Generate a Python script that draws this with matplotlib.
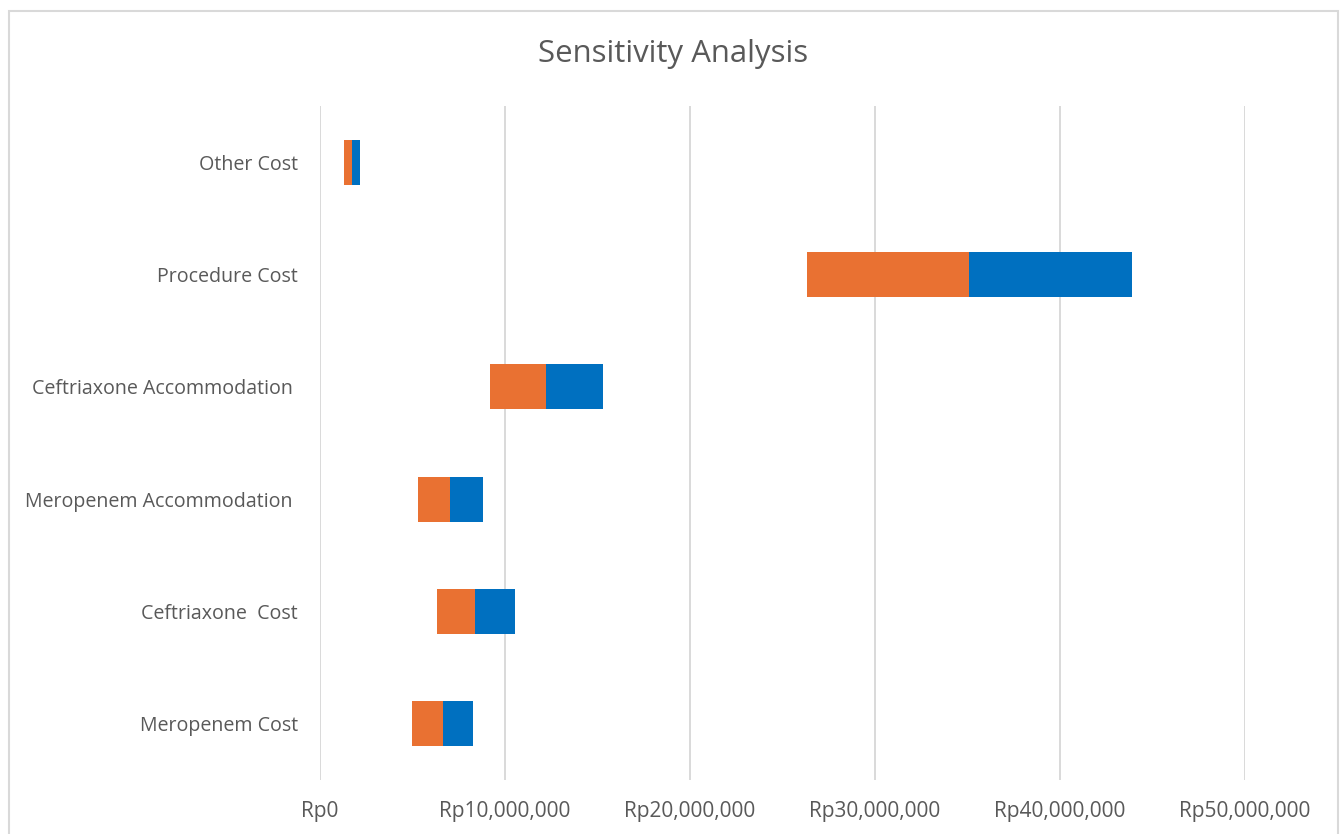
import matplotlib
matplotlib.use("Agg")
import matplotlib.pyplot as plt
from matplotlib.patches import Rectangle
from matplotlib.ticker import FuncFormatter

plt.rcParams['font.family'] = ['Open Sans', 'DejaVu Sans']

categories = [
    "Meropenem Cost",
    "Ceftriaxone  Cost",
    "Meropenem Accommodation ",
    "Ceftriaxone Accommodation ",
    "Procedure Cost",
    "Other Cost",
]
low_values = [4_980_000, 6_350_000, 5_310_000, 9_220_000, 26_350_000, 1_310_000]
base_values = [6_660_000, 8_420_000, 7_070_000, 12_240_000, 35_120_000, 1_730_000]
high_values = [8_300_000, 10_580_000, 8_850_000, 15_310_000, 43_920_000, 2_180_000]
x_ticks = [0, 10_000_000, 20_000_000, 30_000_000, 40_000_000, 50_000_000]

ORANGE = "#E97132"
BLUE = "#0070C0"
TEXT = "#595959"
GRID = "#D9D9D9"

fig = plt.figure(figsize=(13.41, 8.34), dpi=100)
ax = fig.add_axes([0.2383, 0.0647, 0.6898, 0.8082])

y = range(len(categories))
ax.barh(y, [b - l for l, b in zip(low_values, base_values)], left=low_values,
        height=0.4, color=ORANGE, edgecolor="none")
ax.barh(y, [h - b for b, h in zip(base_values, high_values)], left=base_values,
        height=0.4, color=BLUE, edgecolor="none")

ax.set_xlim(0, 50_000_000)
ax.set_ylim(-0.5, len(categories) - 0.5)
ax.set_xticks(x_ticks)
ax.xaxis.set_major_formatter(FuncFormatter(lambda v, p: f"Rp{int(v):,}"))
ax.set_yticks(list(y))
ax.set_yticklabels(categories)

ax.grid(axis="x", color=GRID, linewidth=1.4)
ax.set_axisbelow(True)
for s in ax.spines.values():
    s.set_visible(False)
ax.tick_params(axis="both", length=0, labelcolor=TEXT)
ax.tick_params(axis="y", pad=15.5, labelsize=14.1)
ax.tick_params(axis="x", pad=15, labelsize=15)

fig.text(0.5017, 1 - 54 / 834, "Sensitivity Analysis", ha="center", va="center",
         fontsize=22.4, color=TEXT)

fig.add_artist(Rectangle((9 / 1341, -0.05), (1338 - 9) / 1341, 1.05 - 11 / 834,
                         transform=fig.transFigure, fill=False,
                         edgecolor=GRID, linewidth=1.5))

fig.savefig("out.png", dpi=100, facecolor="white")
